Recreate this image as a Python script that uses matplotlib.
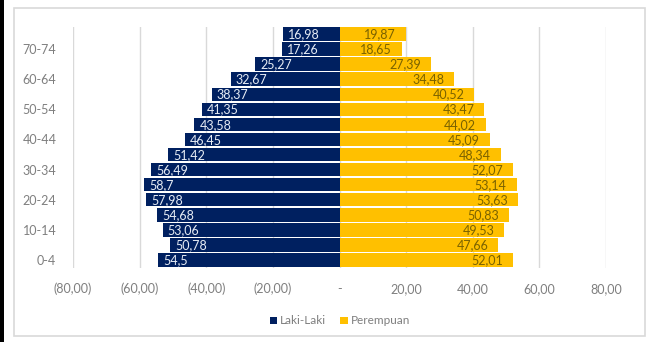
import numpy as np
import matplotlib.pyplot as plt
from matplotlib.patches import Rectangle
from matplotlib.ticker import FuncFormatter

plt.rcParams['font.family'] = ['Lato', 'DejaVu Sans']

# age groups from youngest (bottom) to oldest (top)
age_groups = ['0-4', '5-9', '10-14', '15-19', '20-24', '25-29', '30-34', '35-39',
              '40-44', '45-49', '50-54', '55-59', '60-64', '65-69', '70-74', '75+']
laki_laki = [54.5, 50.78, 53.06, 54.68, 57.98, 58.7, 56.49, 51.42,
             46.45, 43.58, 41.35, 38.37, 32.67, 25.27, 17.26, 16.98]
perempuan = [52.01, 47.66, 49.53, 50.83, 53.63, 53.14, 52.07, 48.34,
             45.09, 44.02, 43.47, 40.52, 34.48, 27.39, 18.65, 19.87]
x_ticks = [-80, -60, -40, -20, 0, 20, 40, 60, 80]

NAVY = '#002060'
GOLD = '#FFC000'
GREY = '#7f7f7f'


def fmt_num(v):
    s = f'{v:g}'
    return s.replace('.', ',')


def fmt_tick(v, pos):
    if v == 0:
        return '-'
    s = f'{abs(v):.2f}'.replace('.', ',')
    return f'({s})' if v < 0 else s


fig = plt.figure(figsize=(6.51, 3.42), dpi=100)
ax = fig.add_axes([73 / 651, 1 - 267.5 / 342, (606 - 73) / 651, (267.5 - 26.5) / 342])

# chart frame and the dark strip on the left edge
fig.patches.append(Rectangle((13.5 / 651, 6 / 342), (645 - 13.5) / 651, (335 - 7) / 342,
                             transform=fig.transFigure, fill=False,
                             edgecolor='#d9d9d9', linewidth=1.2))
fig.patches.append(Rectangle((0, 0), 4 / 651, 1, transform=fig.transFigure,
                             facecolor='black', edgecolor='none'))

y = np.arange(len(age_groups))
male = -np.array(laki_laki)
female = np.array(perempuan)

ax.barh(y, male, height=0.9, color=NAVY, label='Laki-Laki', zorder=3)
ax.barh(y, female, height=0.9, color=GOLD, label='Perempuan', zorder=3)

for yi, v in zip(y, laki_laki):
    ax.text(-v + 1.5, yi - 0.02, fmt_num(v), ha='left', va='center',
            color='#e6ecf5', fontsize=9, zorder=4)
for yi, v in zip(y, perempuan):
    ax.text(v - 3.0, yi - 0.02, fmt_num(v), ha='right', va='center',
            color='#7a6200', fontsize=9, zorder=4)

ax.set_xlim(-80, 80)
ax.set_ylim(-0.5, 15.5)
ax.set_xticks(x_ticks)
ax.xaxis.set_major_formatter(FuncFormatter(fmt_tick))
ax.set_yticks(y[::2])
ax.set_yticklabels(age_groups[::2])
ax.grid(axis='x', color='#d9d9d9', linewidth=1, zorder=0)
for s in ax.spines.values():
    s.set_visible(False)
ax.tick_params(axis='both', length=0, colors=GREY, labelsize=9)
ax.tick_params(axis='y', pad=12)
ax.tick_params(axis='x', pad=11)

fig.legend(loc='center', bbox_to_anchor=(340 / 651, 1 - 321 / 342), ncol=2,
           frameon=False, fontsize=8.5, labelcolor=GREY, handlelength=0.6,
           handleheight=0.6, handletextpad=0.3, columnspacing=1.2)

fig.savefig('out.png', dpi=100)
